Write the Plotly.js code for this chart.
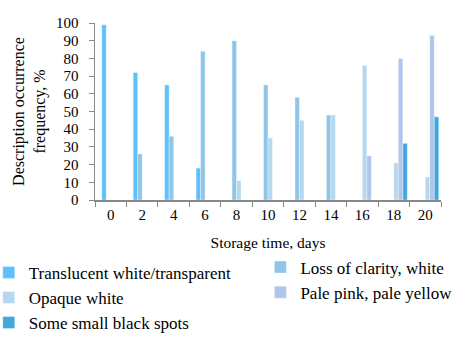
<!DOCTYPE html>
<html><head><meta charset="utf-8">
<script src="https://cdn.plot.ly/plotly-3.0.1.min.js"></script>
<style>html,body{margin:0;padding:0;background:#fff;}#chart{width:470px;height:344px;}</style>
</head><body><div id="chart"></div>
<script>
const days = ['0','2','4','6','8','10','12','14','16','18','20'];
const translucent = [99,72,65,18,0,0,0,0,0,0,0];
const lossClarity = [0,26,36,84,90,65,58,48,0,0,0];
const opaqueWhite = [0,0,0,0,11,35,45,48,76,21,13];
const palePink = [0,0,0,0,0,0,0,0,25,80,93];
const blackSpots = [0,0,0,0,0,0,0,0,0,32,47];

const names = ['Translucent white/transparent','Loss of clarity, white','Opaque white','Pale pink, pale yellow','Some small black spots'];
const series = [translucent, lossClarity, opaqueWhite, palePink, blackSpots];
const colors = ['#5EC0FF','#8EC5E8','#B5D8F0','#AFC5EB','#41A8DC'];
const legendOf = ['legend','legend2','legend','legend2','legend'];
const w = 0.143;
const offsets = [-2*w, -w, 0, w, 2*w];

const traces = series.map((vals,i)=>({
  type:'bar', x:days, y:vals, name:names[i],
  legend:legendOf[i], legendgroup:'g'+i,
  marker:{color:colors[i], line:{color:'rgba(255,255,255,0.6)', width:0.6}},
  width:w, offset:offsets[i]
}));

const fam = '"Liberation Serif", "Times New Roman", serif';
const legFont = {family:fam, size:17, color:'#000'};

Plotly.newPlot('chart', traces, {
  width:470, height:344,
  margin:{l:95, r:29, t:23, b:144, autoexpand:false},
  barmode:'overlay',
  font:{family:fam, color:'#000', size:15},
  showlegend:true,
  legend:{orientation:'v', x:-0.307, xanchor:'left', y:-0.31, yanchor:'top',
    font:legFont, itemwidth:30, tracegroupgap:1, traceorder:'normal', bgcolor:'rgba(0,0,0,0)'},
  legend2:{orientation:'v', x:0.478, xanchor:'left', y:-0.28, yanchor:'top',
    font:legFont, itemwidth:30, tracegroupgap:8, traceorder:'normal', bgcolor:'rgba(0,0,0,0)'},
  xaxis:{type:'category', showline:true, linecolor:'#888', linewidth:1.5,
    ticks:'outside', ticklen:5, tickcolor:'#888', tickson:'boundaries',
    showgrid:false, zeroline:false, tickfont:{size:15},
    title:{text:'Storage time, days', font:{family:fam, size:15.5}, standoff:15}},
  yaxis:{range:[0,100], dtick:10, showline:true, linecolor:'#888', linewidth:1.5,
    ticks:'outside', ticklen:5, tickcolor:'#888', showgrid:false, zeroline:false,
    ticklabelstandoff:7, tickfont:{size:15},
    title:{text:'Description occurrence<br>frequency, %', font:{family:fam, size:16}, standoff:6}},
  plot_bgcolor:'#fff', paper_bgcolor:'#fff'
}, {displayModeBar:false, staticPlot:true});
</script></body></html>
